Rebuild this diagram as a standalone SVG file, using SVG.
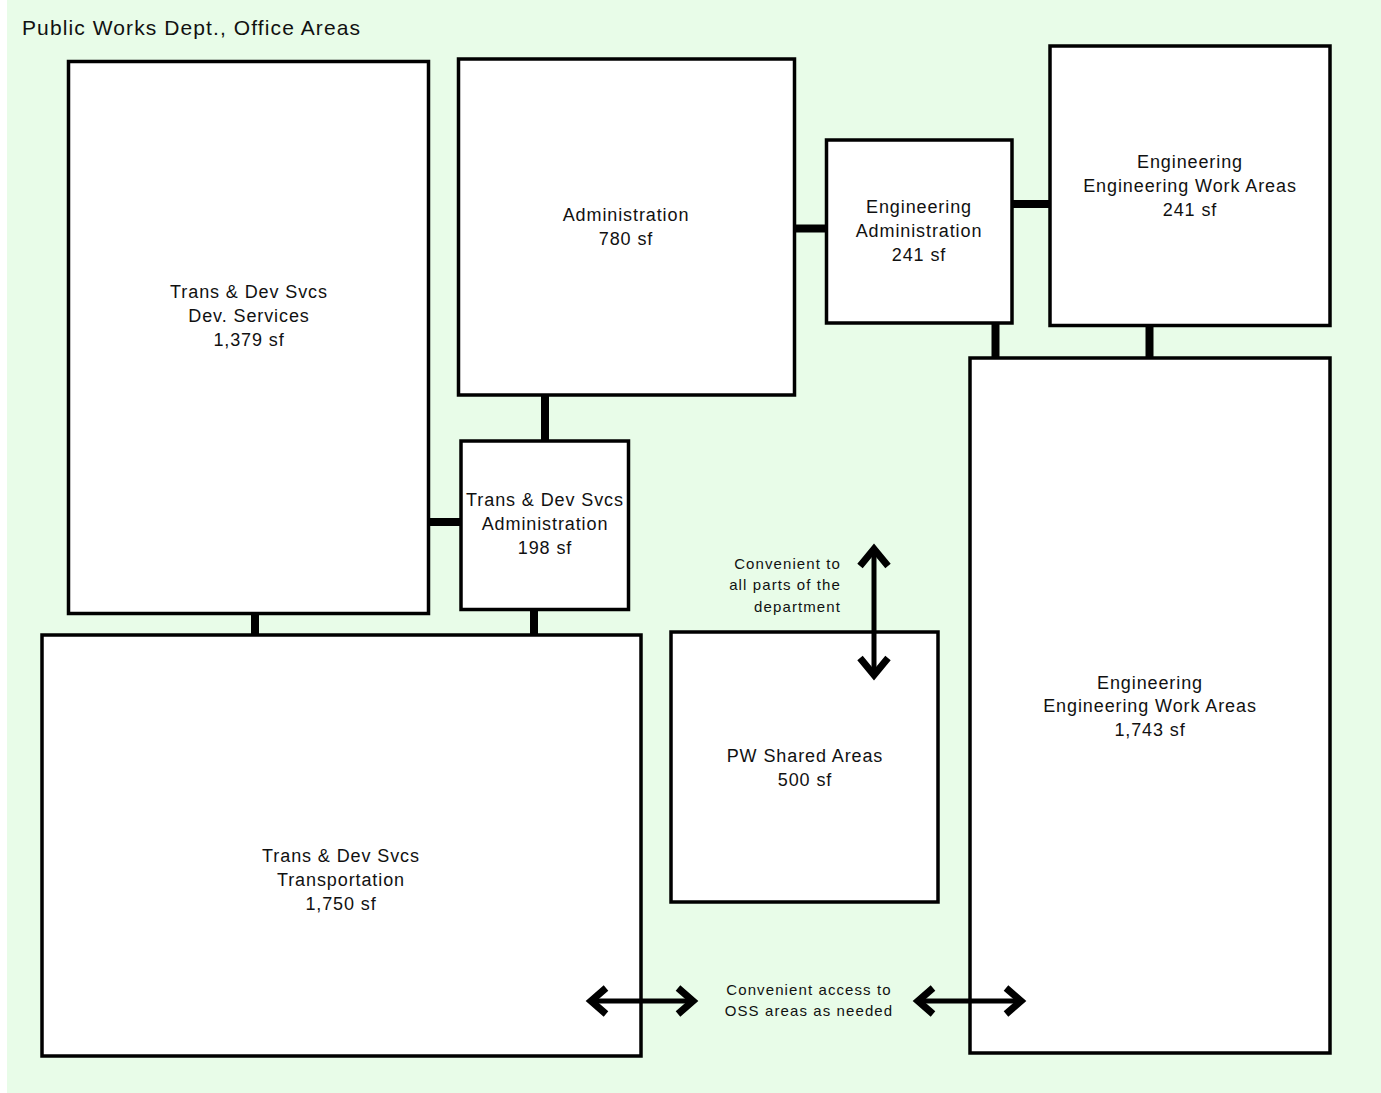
<svg xmlns="http://www.w3.org/2000/svg" width="1381" height="1093" viewBox="0 0 1381 1093">
  <defs>
    <style>
      .bg { fill: #e8fce8; }
      .room { fill: #ffffff; stroke: #000000; stroke-width: 3.5; }
      .link { stroke: #000000; stroke-width: 8; fill: none; }
      .arrow { stroke: #000000; stroke-width: 5; fill: none; }
      .head { stroke: #000000; stroke-width: 7; fill: none; stroke-linecap: butt; stroke-linejoin: miter; }
      .label { font-family: "Liberation Sans", Arial, sans-serif; font-size: 18px; letter-spacing: 0.9px; fill: #111111; text-anchor: middle; }
      .note { font-family: "Liberation Sans", Arial, sans-serif; font-size: 15px; letter-spacing: 1.1px; fill: #111111; }
      .title { font-family: "Liberation Sans", Arial, sans-serif; font-size: 21px; letter-spacing: 1.1px; fill: #111111; }
    </style>
  </defs>

  <rect x="7" y="0" width="1374" height="1093" class="bg"/>
  <text x="22" y="35" class="title">Public Works Dept., Office Areas</text>

  <!-- adjacency links between rooms -->
  <g id="connectors">
    <line x1="545" y1="395" x2="545" y2="441" class="link"/>
    <line x1="428" y1="522" x2="461" y2="522" class="link"/>
    <line x1="255" y1="613" x2="255" y2="635" class="link"/>
    <line x1="534" y1="609" x2="534" y2="635" class="link"/>
    <line x1="794" y1="228.5" x2="826" y2="228.5" class="link"/>
    <line x1="1012" y1="204" x2="1050" y2="204" class="link"/>
    <line x1="995.5" y1="323" x2="995.5" y2="358" class="link"/>
    <line x1="1149.5" y1="325" x2="1149.5" y2="358" class="link"/>
  </g>

  <g id="dev-services">
    <rect x="68.5" y="61.5" width="360" height="552" class="room"/>
    <text class="label" x="249" y="298">Trans &amp; Dev Svcs</text>
    <text class="label" x="249" y="322">Dev. Services</text>
    <text class="label" x="249" y="346">1,379 sf</text>
  </g>

  <g id="administration">
    <rect x="458.5" y="59" width="336" height="336" class="room"/>
    <text class="label" x="626" y="221">Administration</text>
    <text class="label" x="626" y="245">780 sf</text>
  </g>

  <g id="eng-administration">
    <rect x="826.5" y="140" width="185.5" height="183" class="room"/>
    <text class="label" x="919" y="213">Engineering</text>
    <text class="label" x="919" y="237">Administration</text>
    <text class="label" x="919" y="261">241 sf</text>
  </g>

  <g id="eng-work-small">
    <rect x="1050" y="46" width="280" height="279.5" class="room"/>
    <text class="label" x="1190" y="168">Engineering</text>
    <text class="label" x="1190" y="192">Engineering Work Areas</text>
    <text class="label" x="1190" y="216">241 sf</text>
  </g>

  <g id="tds-administration">
    <rect x="461" y="441" width="167.5" height="168.5" class="room"/>
    <text class="label" x="545" y="506">Trans &amp; Dev Svcs</text>
    <text class="label" x="545" y="530">Administration</text>
    <text class="label" x="545" y="554">198 sf</text>
  </g>

  <g id="transportation">
    <rect x="42" y="635" width="599" height="421" class="room"/>
    <text class="label" x="341" y="862">Trans &amp; Dev Svcs</text>
    <text class="label" x="341" y="886">Transportation</text>
    <text class="label" x="341" y="910">1,750 sf</text>
  </g>

  <g id="pw-shared">
    <rect x="671" y="632" width="267" height="270" class="room"/>
    <text class="label" x="805" y="762">PW Shared Areas</text>
    <text class="label" x="805" y="786">500 sf</text>
  </g>

  <g id="eng-work-large">
    <rect x="970" y="358" width="360" height="695" class="room"/>
    <text class="label" x="1150" y="689">Engineering</text>
    <text class="label" x="1150" y="712">Engineering Work Areas</text>
    <text class="label" x="1150" y="736">1,743 sf</text>
  </g>

  <!-- access notes with double-headed arrows -->
  <g id="access-shared">
    <line x1="874" y1="547" x2="874" y2="677" class="arrow"/>
    <polyline points="860,566 874,549 888,566" class="head"/>
    <polyline points="860,658 874,675 888,658" class="head"/>
    <text class="note" x="841" y="569" text-anchor="end">Convenient to</text>
    <text class="note" x="841" y="590" text-anchor="end">all parts of the</text>
    <text class="note" x="841" y="612" text-anchor="end">department</text>
  </g>

  <g id="access-oss">
    <line x1="589" y1="1001" x2="695" y2="1001" class="arrow"/>
    <polyline points="606,988 591,1001 606,1014" class="head"/>
    <polyline points="678,988 693,1001 678,1014" class="head"/>
    <line x1="916" y1="1001" x2="1023" y2="1001" class="arrow"/>
    <polyline points="933,988 918,1001 933,1014" class="head"/>
    <polyline points="1006,988 1021,1001 1006,1014" class="head"/>
    <text class="note" x="809" y="995" text-anchor="middle">Convenient access to</text>
    <text class="note" x="809" y="1016" text-anchor="middle">OSS areas as needed</text>
  </g>
</svg>
